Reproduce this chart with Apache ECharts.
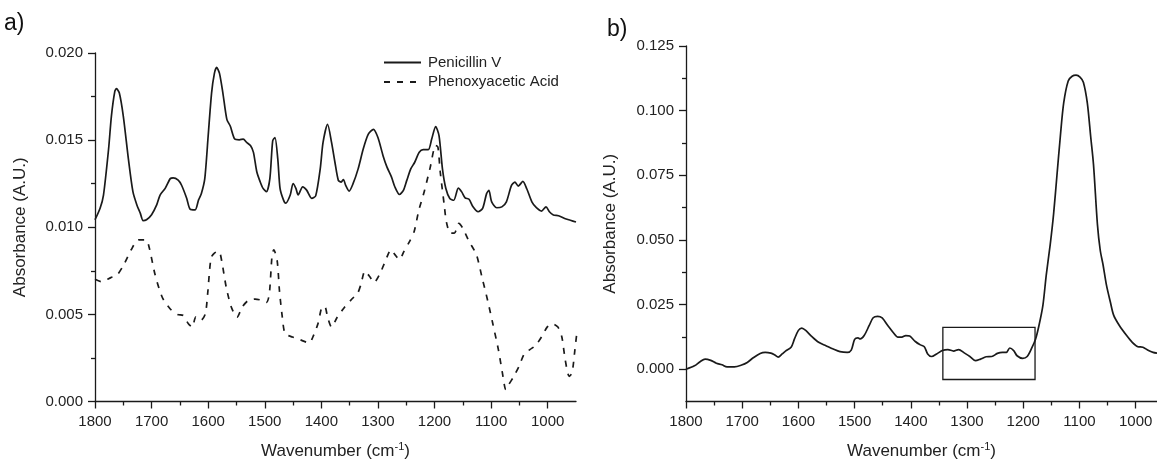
<!DOCTYPE html>
<html><head><meta charset="utf-8">
<script src="https://cdn.jsdelivr.net/npm/echarts@6/dist/echarts.min.js"></script>
<style>html,body{margin:0;padding:0;background:#fff}#c{width:1157px;height:465px}</style>
</head><body><div id="c"></div>
<script>
// ---- Panel a) Penicillin V ----
const penWn = [1800,1791,1785,1776,1771,1765,1762,1757,1750,1741,1733,1726,1720,1715,1709,1700,1691,1685,1676,1667,1662,1653,1647,1638,1632,1623,1617,1612,1606,1600,1594,1589,1585,1580,1574,1567,1561,1553,1545,1538,1532,1525,1520,1514,1508,1503,1497,1491,1486,1482,1477,1473,1467,1463,1455,1450,1445,1441,1433,1426,1417,1410,1402,1397,1389,1382,1376,1370,1365,1361,1357,1351,1344,1335,1326,1317,1308,1300,1291,1284,1276,1270,1262,1255,1249,1242,1235,1227,1220,1211,1205,1198,1192,1186,1180,1173,1166,1158,1152,1146,1139,1132,1123,1115,1108,1104,1099,1090,1081,1073,1064,1058,1052,1044,1037,1028,1020,1011,1003,997,990,981,970,960,950];
const penAbs = [0.01043,0.01109,0.01185,0.01449,0.01638,0.0178,0.01795,0.0177,0.01638,0.01392,0.01204,0.01128,0.01081,0.01038,0.01043,0.01072,0.01128,0.01185,0.01223,0.01279,0.01283,0.0127,0.01241,0.01166,0.01104,0.011,0.01157,0.01194,0.01279,0.01525,0.0177,0.01883,0.01917,0.01883,0.0177,0.01619,0.01581,0.01506,0.01502,0.01506,0.01487,0.01468,0.0143,0.01317,0.0126,0.01223,0.01204,0.01279,0.01496,0.01515,0.01392,0.01223,0.01157,0.01138,0.01185,0.01251,0.01223,0.01185,0.01232,0.01213,0.01166,0.0118,0.01335,0.01487,0.01591,0.01487,0.01373,0.01269,0.01259,0.01274,0.0124,0.01207,0.0125,0.01335,0.01449,0.01534,0.01562,0.01515,0.01411,0.01345,0.01288,0.01231,0.01188,0.01212,0.01269,0.01335,0.01373,0.0143,0.01445,0.01445,0.01506,0.01578,0.01525,0.01335,0.01222,0.01165,0.01155,0.01225,0.01203,0.01169,0.01161,0.01117,0.01089,0.01108,0.01193,0.01212,0.01146,0.01112,0.01117,0.01146,0.0124,0.01259,0.01236,0.01263,0.01221,0.01146,0.01112,0.01093,0.01117,0.01089,0.0107,0.01066,0.0105,0.0104,0.0103];
// ---- Panel a) Phenoxyacetic Acid ----
const phenWn = [1800,1789,1772,1761,1749,1736,1723,1710,1704,1694,1681,1667,1654,1644,1635,1628,1622,1613,1605,1601,1595,1589,1581,1576,1568,1559,1549,1540,1530,1517,1507,1497,1492,1487,1484,1478,1474,1469,1464,1451,1438,1428,1421,1415,1406,1398,1393,1389,1382,1372,1359,1346,1336,1330,1323,1314,1307,1297,1287,1277,1270,1262,1254,1244,1236,1228,1218,1208,1198,1194,1190,1183,1179,1172,1165,1157,1150,1139,1126,1116,1106,1097,1087,1080,1074,1069,1060,1051,1041,1031,1021,1011,1001,992,982,975,969,962,957,952,949];
const phenAbs = [0.00701,0.00688,0.00711,0.00726,0.00786,0.00871,0.00928,0.00928,0.00881,0.0073,0.00597,0.00531,0.00499,0.00493,0.00446,0.00427,0.00484,0.00465,0.00503,0.00616,0.00824,0.00852,0.00862,0.00805,0.00654,0.00541,0.00484,0.00541,0.00578,0.00588,0.00582,0.00569,0.00616,0.00843,0.00871,0.00805,0.00635,0.00484,0.00389,0.0037,0.00355,0.00342,0.00336,0.0037,0.00446,0.00544,0.00541,0.00484,0.00427,0.00484,0.00541,0.00588,0.0062,0.00673,0.00748,0.00714,0.00682,0.0073,0.00805,0.00871,0.00843,0.00815,0.00862,0.00919,0.00975,0.01094,0.01207,0.01338,0.0147,0.0146,0.0132,0.01132,0.0103,0.00966,0.00966,0.01022,0.00994,0.00919,0.00843,0.00711,0.00578,0.00446,0.00295,0.00163,0.00068,0.00096,0.00144,0.002,0.00276,0.00299,0.00323,0.0037,0.00427,0.00446,0.00427,0.0037,0.00238,0.00144,0.00163,0.00295,0.0038];
// ---- Panel b) ----
const bWn = [1800,1785,1775,1766,1756,1746,1736,1727,1714,1701,1691,1681,1668,1659,1649,1642,1636,1629,1623,1613,1607,1600,1594,1587,1577,1564,1551,1538,1526,1513,1506,1500,1494,1490,1483,1474,1467,1459,1451,1441,1431,1423,1416,1409,1402,1392,1383,1376,1370,1363,1354,1344,1334,1324,1315,1305,1295,1285,1276,1266,1256,1246,1237,1230,1224,1217,1211,1201,1193,1185,1178,1172,1165,1159,1152,1146,1140,1134,1128,1120,1113,1106,1099,1093,1086,1080,1075,1068,1063,1058,1052,1045,1039,1029,1016,1006,996,987,977,969,962];
const bAbs = [0.0,0.0013,0.0029,0.0039,0.0034,0.0023,0.0017,0.0009,0.0009,0.0016,0.0026,0.0043,0.0061,0.0065,0.0062,0.0055,0.0047,0.0059,0.007,0.0085,0.0117,0.015,0.0159,0.015,0.0128,0.0104,0.0091,0.0078,0.0068,0.0065,0.0074,0.0115,0.0121,0.0117,0.013,0.0169,0.0199,0.0204,0.0198,0.0169,0.0141,0.0124,0.0124,0.013,0.0128,0.0107,0.0094,0.0087,0.0059,0.0049,0.0059,0.0072,0.0076,0.007,0.0076,0.0063,0.0049,0.0033,0.0039,0.0048,0.0049,0.0061,0.0065,0.0065,0.0082,0.0072,0.0052,0.0042,0.0049,0.0081,0.0117,0.0169,0.0247,0.0365,0.0482,0.06,0.075,0.09,0.103,0.1115,0.1133,0.1137,0.113,0.111,0.103,0.09,0.0792,0.056,0.046,0.0404,0.0326,0.026,0.0208,0.0169,0.013,0.0104,0.0087,0.0085,0.0072,0.0065,0.0062];
// highlighted region in panel b: [wnStart, wnEnd, absLow, absHigh]
const boxB = [1343, 1179, -0.004, 0.0162];

// tick values
const xMajor = [1800,1700,1600,1500,1400,1300,1200,1100,1000];
const xMinor = [1750,1650,1550,1450,1350,1250,1150,1050];
const yMajorB = [0,0.025,0.05,0.075,0.1,0.125];
const yMinorB = [0.0125,0.0375,0.0625,0.0875,0.1125];

const FONT = '"Liberation Sans", Arial, sans-serif';
const INK = '#1a1a1a';
const TXT = '#222';
const zip = (a, b) => a.map((v, i) => [v, b[i]]);
const lineS = {color: INK, width: 1.3};
const lbl = {color: TXT, fontSize: 15, fontFamily: FONT};
const xName = {
  name: '{a|Wavenumber (cm}{s|-1}{a|)}',
  nameLocation: 'middle', nameGap: 40,
  nameTextStyle: {rich: {a: {fontSize: 17, color: TXT, fontFamily: FONT}, s: {fontSize: 11, color: TXT, fontFamily: FONT, padding: [0, 0, 9, 0]}}}
};
const yName = {
  name: 'Absorbance (A.U.)', nameLocation: 'middle', nameGap: 66,
  nameTextStyle: {fontSize: 17, color: TXT, fontFamily: FONT}
};
function mainX(grid, min) {
  return Object.assign({
    type: 'value', gridIndex: grid, min: min, max: 1800, inverse: true, position: 'bottom',
    axisLine: {show: true, onZero: false, lineStyle: lineS},
    axisTick: {show: true, customValues: xMajor, length: 7, lineStyle: lineS},
    axisLabel: Object.assign({customValues: xMajor, margin: 13, formatter: v => String(v)}, lbl),
    splitLine: {show: false}
  }, xName);
}
function minorX(grid, min) {
  return {
    type: 'value', gridIndex: grid, min: min, max: 1800, inverse: true, position: 'bottom', offset: 0,
    axisLine: {show: false, onZero: false},
    axisTick: {show: true, customValues: xMinor, length: 4, lineStyle: lineS},
    axisLabel: {show: false}, splitLine: {show: false}
  };
}

const option = {
  animation: false,
  textStyle: {fontFamily: FONT},
  title: [
    {text: 'a)', left: 4, top: 12, padding: 0, textStyle: {fontSize: 23, fontWeight: 'normal', color: '#111', fontFamily: FONT}},
    {text: 'b)', left: 607, top: 18, padding: 0, textStyle: {fontSize: 23, fontWeight: 'normal', color: '#111', fontFamily: FONT}}
  ],
  legend: {
    data: ['Penicillin V', 'Phenoxyacetic Acid'], orient: 'vertical', left: 383, top: 55, padding: 0,
    itemWidth: 37, itemHeight: 14, itemGap: 4.5,
    itemStyle: {color: 'rgba(0,0,0,0)', borderWidth: 0, opacity: 0},
    textStyle: {fontSize: 15, color: TXT, fontFamily: FONT, padding: [0, 0, 0, 2]}
  },
  grid: [
    {left: 95, top: 53, width: 481, height: 352},
    {left: 686, top: 46, width: 471, height: 356}
  ],
  xAxis: [mainX(0, 950), minorX(0, 950), mainX(1, 962), minorX(1, 962)],
  yAxis: [
    Object.assign({
      type: 'value', gridIndex: 0, min: 0, max: 0.02, interval: 0.005,
      axisLine: {show: true, onZero: false, lineStyle: lineS},
      axisTick: {show: true, length: 7, lineStyle: lineS},
      minorTick: {show: true, splitNumber: 2, length: 4, lineStyle: lineS},
      axisLabel: Object.assign({margin: 12, formatter: v => v.toFixed(3)}, lbl),
      splitLine: {show: false}
    }, yName),
    Object.assign({
      type: 'value', gridIndex: 1, min: -0.0125, max: 0.125,
      axisLine: {show: true, onZero: false, lineStyle: lineS},
      axisTick: {show: true, customValues: yMajorB, length: 7, lineStyle: lineS},
      axisLabel: Object.assign({customValues: yMajorB, margin: 12, formatter: v => v.toFixed(3)}, lbl),
      splitLine: {show: false}
    }, yName, {nameGap: 67}),
    {
      type: 'value', gridIndex: 1, min: -0.0125, max: 0.125, position: 'left', offset: 0,
      axisLine: {show: false, onZero: false},
      axisTick: {show: true, customValues: yMinorB, length: 4, lineStyle: lineS},
      axisLabel: {show: false}, splitLine: {show: false}
    }
  ],
  series: [
    {name: 'Penicillin V', type: 'line', xAxisIndex: 0, yAxisIndex: 0, data: zip(penWn, penAbs),
     symbol: 'none', smooth: 0.25, lineStyle: {color: INK, width: 1.7}, itemStyle: {color: INK}},
    {name: 'Phenoxyacetic Acid', type: 'line', xAxisIndex: 0, yAxisIndex: 0, data: zip(phenWn, phenAbs),
     symbol: 'none', smooth: 0.25, lineStyle: {color: INK, width: 1.7, type: [6, 7]}, itemStyle: {color: INK}},
    {name: 'b', type: 'line', xAxisIndex: 2, yAxisIndex: 1, data: zip(bWn, bAbs),
     symbol: 'none', smooth: 0.3, lineStyle: {color: INK, width: 1.7}, itemStyle: {color: INK},
     markArea: {silent: true, itemStyle: {color: 'rgba(0,0,0,0)', borderColor: INK, borderWidth: 1.3},
       data: [[{coord: [boxB[0], boxB[2]]}, {coord: [boxB[1], boxB[3]]}]]}}
  ]
};
const chart = echarts.init(document.getElementById('c'), null, {renderer: 'canvas'});
chart.setOption(option);
</script></body></html>
